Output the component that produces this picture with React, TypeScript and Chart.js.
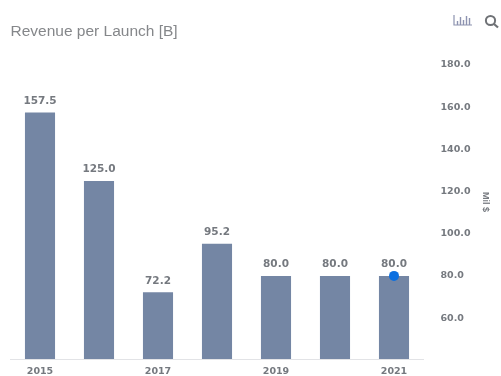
import React, { useEffect, useRef } from "react";
import { Chart, registerables } from "chart.js";

Chart.register(...registerables);

const years = ["2015", "2016", "2017", "2018", "2019", "2020", "2021"];
const revenuePerLaunch = [157.5, 125.0, 72.2, 95.2, 80.0, 80.0, 80.0];
const latestMarker = [null, null, null, null, null, null, 80.0];
const yTicks = [60, 80, 100, 120, 140, 160, 180];

const TEXT = "#75797f";
const LABEL_FONT = "bold 10.5px 'DejaVu Sans', sans-serif";

// Value captions above the bars and the rotated unit caption beside the axis.
const captions = {
  id: "captions",
  afterDatasetsDraw(chart: any) {
    const { ctx } = chart;
    const bars = chart.getDatasetMeta(1).data;
    ctx.save();
    ctx.font = LABEL_FONT;
    ctx.fillStyle = TEXT;
    ctx.textAlign = "center";
    ctx.textBaseline = "bottom";
    bars.forEach((bar: any, i: number) => {
      ctx.fillText(revenuePerLaunch[i].toFixed(1), bar.x, bar.y - 6);
    });
    ctx.translate(485, 202);
    ctx.rotate(Math.PI / 2);
    ctx.font = "bold 9px 'Liberation Sans', sans-serif";
    ctx.textBaseline = "middle";
    ctx.fillText("Mil $", 0, 0);
    ctx.restore();
  },
};

export default function App() {
  const ref = useRef<HTMLCanvasElement>(null);

  useEffect(() => {
    const chart = new Chart(ref.current!, {
      type: "bar",
      data: {
        labels: years,
        datasets: [
          {
            type: "line",
            label: "Latest",
            data: latestMarker as any,
            showLine: false,
            pointRadius: 5,
            pointBackgroundColor: "#0b6fe0",
            pointBorderColor: "#0b6fe0",
            pointBorderWidth: 0,
            order: 0,
          } as any,
          {
            label: "Revenue per Launch [B]",
            data: revenuePerLaunch,
            backgroundColor: "#7486a4",
            borderWidth: 0,
            barPercentage: 0.51,
            categoryPercentage: 1,
            order: 1,
          },
        ],
      },
      options: {
        animation: false,
        responsive: false,
        layout: { padding: { left: 10.5, right: 0, top: 0, bottom: 0 } },
        plugins: {
          legend: { display: false },
          tooltip: { enabled: false },
          title: {
            display: true,
            text: "Revenue per Launch [B]",
            align: "start",
            color: "#85878a",
            font: { family: "'Liberation Sans', sans-serif", size: 15.5, weight: "normal", lineHeight: 1.2 },
            padding: { top: 22, bottom: 24.4 },
          },
        },
        scales: {
          x: {
            grid: { display: false, drawTicks: false },
            border: { color: "#e2e3e6", width: 1 },
            afterFit(scale: any) {
              scale.height = 17;
              scale.paddingLeft = 0;
              scale.paddingRight = 0;
            },
            ticks: {
              autoSkip: false,
              maxRotation: 0,
              padding: 7,
              color: TEXT,
              font: { family: "'DejaVu Sans', sans-serif", size: 9.5, weight: "bold" },
              callback(_v: any, i: number) {
                return i % 2 === 0 ? years[i] : "";
              },
            },
          },
          y: {
            position: "right",
            min: 40.6,
            max: 180,
            grid: { display: false, drawTicks: false },
            border: { display: false },
            afterFit(scale: any) {
              scale.width = 77.5;
              scale.paddingTop = 0;
              scale.paddingBottom = 0;
            },
            afterBuildTicks(scale: any) {
              scale.ticks = yTicks.map((value) => ({ value }));
            },
            ticks: {
              padding: 17,
              color: TEXT,
              font: { family: "'DejaVu Sans', sans-serif", size: 9.5, weight: "bold" },
              callback: (v: any) => Number(v).toFixed(1),
            },
          },
        },
      },
      plugins: [captions],
    } as any);
    return () => chart.destroy();
  }, []);

  return (
    <div style={{ position: "absolute", left: 0, top: 0, width: 501, height: 376, background: "#fff" }}>
      <canvas ref={ref} width={501} height={376} style={{ display: "block" }} />
      {/* Toolbar icons: chart type and zoom */}
      <svg width={501} height={40} style={{ position: "absolute", left: 0, top: 0 }}>
        <g stroke="#8d93b0" strokeWidth={1.2} fill="none">
          <path d="M454 15V25H472" />
          <path d="M457.5 25V21M460.5 25V17M463.5 25V20M466.5 25V16M469.5 25V18" strokeWidth={1.4} />
        </g>
        <circle cx={490.5} cy={20.5} r={4.6} stroke="#6f7276" strokeWidth={2} fill="none" />
        <path d="M494 24L498 27.5" stroke="#6f7276" strokeWidth={2.2} />
      </svg>
    </div>
  );
}
